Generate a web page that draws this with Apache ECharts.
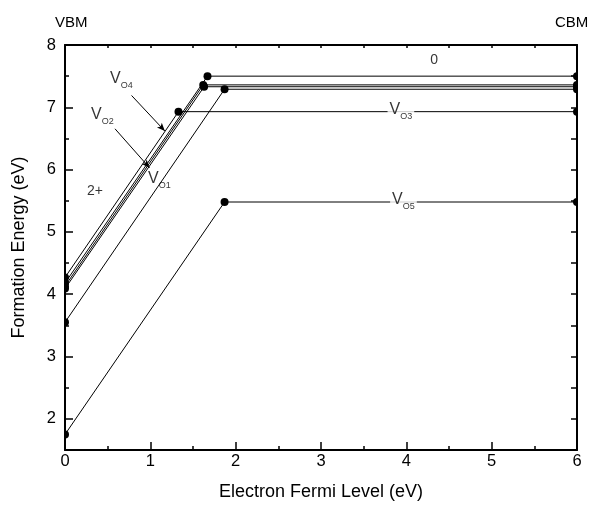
<!DOCTYPE html>
<html>
<head>
<meta charset="utf-8">
<script src="https://cdn.jsdelivr.net/npm/echarts@6/dist/echarts.min.js"></script>
<style>
  html, body { margin: 0; padding: 0; background: #fff; }
  #chart { width: 591px; height: 506px; }
</style>
</head>
<body>
<div id="chart"></div>
<script>
// formation energy lines: value at VBM, transition level (2+/0), neutral energy
const defects = ['VO3', 'VO4', 'VO2', 'VO2b', 'VO1', 'VO5']
const eVBM = [4.27, 4.18, 4.13, 4.09, 3.55, 1.75]
const eTrans = [1.33, 1.67, 1.62, 1.63, 1.87, 1.87]
const eNeutral = [6.93, 7.50, 7.36, 7.33, 7.29, 5.48]
const eCBM = 6

const yMajor = [2, 3, 4, 5, 6, 7, 8]
const yMinor = [2.5, 3.5, 4.5, 5.5, 6.5, 7.5]
const yRight = [2, 2.5, 3, 3.5, 4, 4.5, 5, 5.5, 6, 6.5, 7, 7.5, 8]

// text annotations (data coords)
const labelText = ['{v|V}{s|O4}', '{v|V}{s|O2}', '{v|V}{s|O1}', '{p|2+}', '{p|0}', '{v|V}{s|O3}', '{v|V}{s|O5}']
const labelPos = [[0.527, 7.46], [0.305, 6.89], [0.973, 5.85], [0.258, 5.655], [4.28, 7.75], [3.78, 6.97], [3.81, 5.52]]
const labelBg = [false, false, false, false, false, true, true]
const arrowFrom = [[0.78, 7.19], [0.586, 6.655]]
const arrowTo = [[1.17, 6.62], [0.99, 6.03]]

const FONT = 'Liberation Sans, Arial, sans-serif'
const halfRight = 'path://M0,0 A10,10 0 0,1 0,20 Z'
const halfLeft = 'path://M10,0 A10,10 0 0,0 10,20 Z'

const chart = echarts.init(document.getElementById('chart'))

const lineSeries = defects.map((name, i) => ({
  name,
  type: 'line',
  clip: false,
  symbol: 'circle',
  symbolSize: 8,
  itemStyle: { color: '#000' },
  lineStyle: { color: '#000', width: 1 },
  z: 3,
  data: [
    { value: [0, eVBM[i]], symbol: halfRight, symbolSize: [4, 8], symbolOffset: [2, 0] },
    [eTrans[i], eNeutral[i]],
    { value: [eCBM, eNeutral[i]], symbol: halfLeft, symbolSize: [4, 8], symbolOffset: [-2, 0] }
  ],
  markLine: i === 0 ? {
    silent: true,
    symbol: ['none', 'arrow'],
    symbolSize: [5, 8],
    lineStyle: { color: '#000', width: 1, type: 'solid' },
    label: { show: false },
    data: arrowFrom.map((p, k) => [{ coord: p }, { coord: arrowTo[k] }])
  } : undefined
}))

const rich = {
  v: { fontSize: 16, lineHeight: 24, color: '#000', fontFamily: FONT },
  s: { fontSize: 9, lineHeight: 10, padding: [14, 0, 0, 0], color: '#000', fontFamily: FONT },
  p: { fontSize: 14, lineHeight: 16, color: '#000', fontFamily: FONT }
}

const labelSeries = {
  type: 'scatter',
  symbolSize: 0,
  silent: true,
  z: 5,
  data: labelPos.map((p, i) => ({
    value: p,
    label: {
      show: true,
      position: 'right',
      distance: 0,
      formatter: labelText[i],
      rich,
      backgroundColor: labelBg[i] ? '#fff' : 'transparent',
      padding: labelBg[i] ? [0, 2] : 0
    }
  }))
}

const axisLine = { show: true, lineStyle: { color: '#000', width: 2 } }

chart.setOption({
  animation: false,
  textStyle: { fontFamily: FONT },
  grid: { left: 65, right: 14, top: 45, bottom: 55 },
  graphic: [
    { type: 'text', left: 55, top: 15, style: { text: 'VBM', fontSize: 15, fontFamily: FONT, fill: '#000' } },
    { type: 'text', left: 555, top: 15, style: { text: 'CBM', fontSize: 15, fontFamily: FONT, fill: '#000' } }
  ],
  xAxis: [
    {
      type: 'value', min: 0, max: 6, interval: 1,
      name: 'Electron Fermi Level (eV)', nameLocation: 'middle', nameGap: 33,
      nameTextStyle: { fontSize: 18, color: '#000' },
      axisLine,
      axisTick: { inside: true, length: 8, lineStyle: { color: '#000', width: 1.5 } },
      minorTick: { show: true, splitNumber: 2, length: 4, lineStyle: { color: '#000', width: 1.5 } },
      axisLabel: { fontSize: 16.5, color: '#000', margin: 3 },
      splitLine: { show: false }
    },
    {
      type: 'value', position: 'top', min: 0, max: 6, interval: 0.5,
      axisLine,
      axisTick: { inside: true, length: 3, lineStyle: { color: '#000', width: 1.5 } },
      axisLabel: { show: false },
      splitLine: { show: false }
    }
  ],
  yAxis: [
    {
      type: 'value', min: 1.5, max: 8,
      name: 'Formation Energy (eV)', nameLocation: 'middle', nameGap: 37,
      nameTextStyle: { fontSize: 18, color: '#000' },
      axisLine,
      axisTick: { inside: true, length: 8, customValues: yMajor, lineStyle: { color: '#000', width: 1.5 } },
      axisLabel: { fontSize: 16.5, color: '#000', margin: 9, customValues: yMajor },
      splitLine: { show: false }
    },
    {
      type: 'value', min: 1.5, max: 8, position: 'left',
      axisLine: { show: false },
      axisTick: { inside: true, length: 4, customValues: yMinor, lineStyle: { color: '#000', width: 1.5 } },
      axisLabel: { show: false },
      splitLine: { show: false }
    },
    {
      type: 'value', min: 1.5, max: 8, position: 'right',
      axisLine,
      axisTick: { inside: true, length: 6, customValues: yRight, lineStyle: { color: '#000', width: 1.5 } },
      axisLabel: { show: false },
      splitLine: { show: false }
    }
  ],
  series: [...lineSeries, labelSeries]
})
</script>
</body>
</html>
